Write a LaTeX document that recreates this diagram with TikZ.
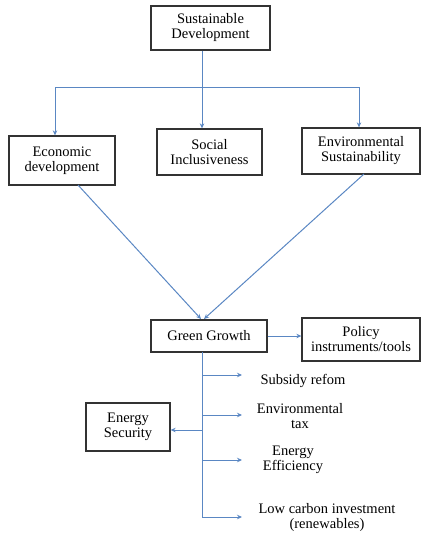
\documentclass[tikz,border=0pt]{standalone}
\usepackage{fontspec}
\setmainfont{Liberation Serif}
\usetikzlibrary{arrows.meta}
\definecolor{lineblue}{RGB}{90,135,195}
\begin{document}
\begin{tikzpicture}[x=1bp,y=-1bp,
  box/.style={draw=black!80,line width=1.3bp,align=center,inner sep=0pt,font=\fontsize{14.5bp}{15bp}\selectfont},
  lbl/.style={align=center,inner sep=0pt,font=\fontsize{14.5bp}{15bp}\selectfont},
  conn/.style={draw=lineblue,line width=1bp},
  arr/.style={conn,-{Stealth[length=5bp,width=4.5bp]}}]
\useasboundingbox (0,0) rectangle (421,536);
\node[box,minimum width=119bp,minimum height=44bp] (sd) at (210.5,28) {Sustainable\\Development};
\node[box,minimum width=106bp,minimum height=49bp] (ed) at (62,160.5) {Economic\\development};
\node[box,minimum width=105bp,minimum height=46bp] (si) at (209.5,152) {Social\\Inclusiveness};
\node[box,minimum width=118bp,minimum height=46bp] (es) at (361,151) {Environmental\\Sustainability};
\node[box,minimum width=116bp,minimum height=32bp] (gg) at (209,336) {Green Growth};
\node[box,minimum width=118bp,minimum height=43bp] (pi) at (361,339.5) {Policy\\instruments/tools};
\node[box,minimum width=84bp,minimum height=48bp] (en) at (128,427) {Energy\\Security};
\node[lbl] (sr) at (303,381) {Subsidy refom};
\node[lbl] (et) at (300,416) {Environmental\\tax};
\node[lbl] (ee) at (293,460) {Energy\\Efficiency};
\node[lbl] (lc) at (327,518) {Low carbon investment\\(renewables)};
\coordinate (j) at (202,88);
\coordinate (jl) at (55,88);
\coordinate (jr) at (359,88);
\draw[conn] (sd.south -| j) -- (j);
\draw[arr] (jl) -- (jl |- ed.north);
\draw[arr] (jl) -- (jr) -- (jr |- es.north);
\draw[arr] (j) -- (j |- si.north);
\draw[arr] (78,185) -- (201,319);
\draw[arr] (364,174) -- (204,319);
\draw[arr] (gg.east) -- (pi.west |- gg.east);
\coordinate (s0) at (202,352);
\coordinate (s1) at (202,375);
\coordinate (s2) at (202,415);
\coordinate (s3) at (202,460);
\coordinate (s4) at (202,517);
\coordinate (sE) at (202,430);
\draw[conn] (s0) -- (s4);
\draw[arr] (s1) -- (242,375);
\draw[arr] (s2) -- (242,415);
\draw[arr] (s3) -- (242,460);
\draw[arr] (s4) -- (242,517);
\draw[arr] (sE) -- (en.east |- sE);
\end{tikzpicture}
\end{document}
